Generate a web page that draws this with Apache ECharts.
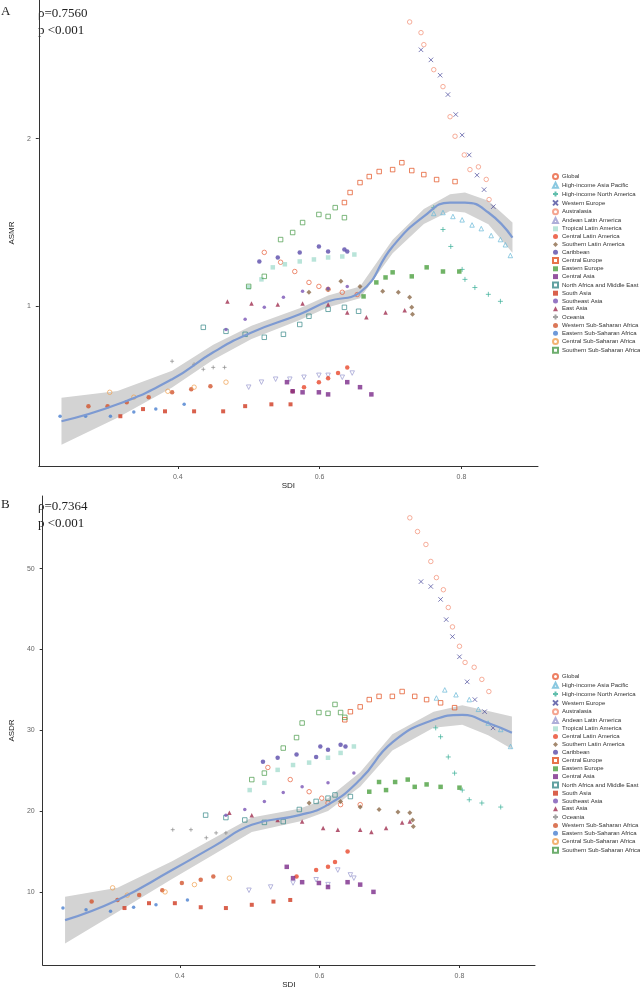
<!DOCTYPE html>
<html><head><meta charset="utf-8">
<script src="https://cdn.jsdelivr.net/npm/echarts@6/dist/echarts.min.js"></script>
<style>html,body{margin:0;padding:0;background:#fff}#c{width:640px;height:992px}</style>
</head><body><div id="c"></div>
<script>
const regions = ["Global","High-income Asia Pacific","High-income North America","Western Europe","Australasia","Andean Latin America","Tropical Latin America","Central Latin America","Southern Latin America","Caribbean","Central Europe","Eastern Europe","Central Asia","North Africa and Middle East","South Asia","Southeast Asia","East Asia","Oceania","Western Sub-Saharan Africa","Eastern Sub-Saharan Africa","Central Sub-Saharan Africa","Southern Sub-Saharan Africa"];
const colors = ["#E8603C","#6BBAD8","#3AAF98","#4B4B9C","#F28E74","#9A9ACF","#A8DDD0","#E8472A","#8C6A4A","#5A4BAA","#E2501F","#4CA040","#7A2A8A","#3A8A8A","#D03A20","#7A55B5","#A03050","#8C8C8C","#D2552E","#4A80D0","#F0A050","#4A9A4A"];
const xSym='path://M0,0L10,10M10,0L0,10', pSym='path://M5,0L5,10M0,5L10,5';
const symbols = ["circle","triangle",pSym,xSym,"circle","triangle","rect","circle","diamond","circle","rect","rect","rect","rect","rect","circle","triangle",pSym,"circle","circle","circle","rect"];
const outline = [true,true,true,true,true,true,false,false,false,false,true,false,false,true,false,false,false,true,false,false,true,true];
const sizes = [4.5,4.5,5,4.5,4.5,4.5,4.5,4.5,5,4.5,4.5,4.5,4.5,4.5,4,3.5,4.5,4,4.5,3.5,4.5,4.5];

// Panel A: ASMR (SDI, ASMR)
const asmrData = [
 [[0.522,1.25],[0.545,1.20],[0.565,1.155],[0.585,1.104],[0.599,1.086],[0.612,1.073],[0.632,1.06],[0.653,1.05]],
 [[0.761,1.468],[0.774,1.474],[0.788,1.45],[0.801,1.43],[0.815,1.40],[0.828,1.379],[0.842,1.34],[0.855,1.318],[0.862,1.29],[0.869,1.234]],
 [[0.761,1.504],[0.774,1.374],[0.785,1.281],[0.801,1.165],[0.805,1.118],[0.819,1.081],[0.838,1.051],[0.855,1.021]],
 [[0.743,2.888],[0.757,2.77],[0.770,2.60],[0.781,2.40],[0.792,2.21],[0.801,2.03],[0.811,1.87],[0.822,1.72],[0.832,1.62],[0.845,1.51]],
 [[0.727,3.24],[0.743,3.10],[0.747,2.95],[0.761,2.66],[0.774,2.48],[0.784,2.19],[0.791,2.02],[0.804,1.87],[0.812,1.76],[0.824,1.78],[0.835,1.69],[0.839,1.555]],
 [[0.50,0.716],[0.518,0.731],[0.538,0.740],[0.558,0.740],[0.578,0.746],[0.599,0.752],[0.612,0.752],[0.632,0.746],[0.646,0.759]],
 [[0.50,1.082],[0.518,1.118],[0.534,1.175],[0.551,1.19],[0.572,1.204],[0.592,1.214],[0.612,1.224],[0.632,1.229],[0.649,1.239]],
 [[0.562,0.704],[0.578,0.716],[0.599,0.731],[0.612,0.743],[0.626,0.759],[0.639,0.777]],
 [[0.585,1.06],[0.612,1.073],[0.630,1.109],[0.657,1.086],[0.689,1.064],[0.711,1.06],[0.727,1.038],[0.730,0.996],[0.731,0.968]],
 [[0.515,1.204],[0.541,1.224],[0.572,1.25],[0.599,1.281],[0.612,1.255],[0.635,1.265],[0.639,1.255]],
 [[0.635,1.536],[0.643,1.601],[0.657,1.668],[0.670,1.71],[0.684,1.746],[0.703,1.76],[0.716,1.811],[0.730,1.753],[0.747,1.724],[0.765,1.689],[0.791,1.675]],
 [[0.662,1.042],[0.680,1.104],[0.693,1.127],[0.703,1.151],[0.730,1.132],[0.751,1.175],[0.774,1.155],[0.797,1.155]],
 [[0.554,0.731],[0.562,0.704],[0.576,0.701],[0.599,0.701],[0.612,0.695],[0.639,0.731],[0.657,0.716],[0.673,0.695]],
 [[0.436,0.917],[0.468,0.902],[0.495,0.891],[0.522,0.880],[0.549,0.891],[0.572,0.928],[0.585,0.96],[0.612,0.988],[0.635,0.996],[0.655,0.98]],
 [[0.319,0.635],[0.351,0.654],[0.382,0.648],[0.423,0.648],[0.464,0.648],[0.495,0.662],[0.532,0.667],[0.559,0.667]],
 [[0.468,0.909],[0.495,0.948],[0.522,0.996],[0.549,1.038],[0.576,1.064],[0.612,1.077],[0.639,1.086]],
 [[0.47,1.02],[0.504,1.012],[0.541,1.008],[0.576,1.012],[0.612,1.008],[0.639,0.975],[0.666,0.956],[0.693,0.975],[0.72,0.984]],
 [[0.392,0.797],[0.423,0.787],[0.436,0.771],[0.45,0.777],[0.466,0.777]],
 [[0.274,0.662],[0.301,0.662],[0.328,0.673],[0.359,0.687],[0.392,0.701],[0.419,0.71],[0.446,0.719]],
 [[0.234,0.635],[0.27,0.635],[0.305,0.635],[0.338,0.646],[0.369,0.654],[0.409,0.667]],
 [[0.304,0.701],[0.338,0.687],[0.386,0.704],[0.423,0.716],[0.468,0.731]],
 [[0.50,1.086],[0.522,1.132],[0.545,1.318],[0.562,1.357],[0.576,1.414],[0.599,1.462],[0.612,1.45],[0.622,1.504],[0.635,1.443]]
];
const asmrFitX = [0.236,0.315,0.392,0.45,0.504,0.572,0.612,0.657,0.703,0.747,0.784,0.805,0.838,0.872];
const asmrFitY = [0.622,0.667,0.74,0.827,0.898,0.968,1.021,1.06,1.281,1.45,1.536,1.536,1.474,1.329];
const asmrFitSE = [0.14,0.08,0.05,0.045,0.04,0.035,0.035,0.035,0.04,0.045,0.05,0.06,0.07,0.09]; // log2 units

// Panel B: ASDR
const asdrData = [
 [[0.526,25.4],[0.558,23.9],[0.585,22.4],[0.603,21.6],[0.612,21.0],[0.630,20.8],[0.658,20.8]],
 [[0.767,34.0],[0.779,35.0],[0.795,34.4],[0.814,33.8],[0.827,32.6],[0.841,30.9],[0.859,30.1],[0.873,28.0]],
 [[0.766,30.3],[0.773,29.2],[0.784,26.7],[0.793,24.7],[0.804,22.6],[0.814,21.4],[0.832,21.0],[0.859,20.5]],
 [[0.745,48.4],[0.759,47.8],[0.773,46.2],[0.781,43.7],[0.79,41.6],[0.80,39.1],[0.811,36.0],[0.822,33.8],[0.836,32.3],[0.848,30.3]],
 [[0.729,56.3],[0.740,54.6],[0.752,53.0],[0.759,50.9],[0.767,48.9],[0.777,47.4],[0.784,45.2],[0.790,42.8],[0.80,40.4],[0.808,38.4],[0.821,37.8],[0.832,36.3],[0.842,34.8]],
 [[0.499,10.2],[0.530,10.6],[0.562,11.1],[0.595,11.5],[0.612,10.9],[0.626,12.7],[0.644,12.1],[0.649,11.7]],
 [[0.50,22.6],[0.521,23.5],[0.540,25.1],[0.562,25.7],[0.585,26.0],[0.612,26.6],[0.630,27.2],[0.649,28.0]],
 [[0.567,11.9],[0.595,12.7],[0.612,13.1],[0.622,13.7],[0.640,15.0]],
 [[0.585,21.0],[0.630,21.2],[0.658,20.5],[0.685,20.2],[0.712,19.9],[0.729,19.8],[0.733,18.9],[0.734,18.1]],
 [[0.519,26.1],[0.540,26.6],[0.567,27.0],[0.595,26.7],[0.601,28.0],[0.612,27.6],[0.630,28.2],[0.637,28.0]],
 [[0.636,31.3],[0.644,32.3],[0.658,32.9],[0.671,33.8],[0.685,34.2],[0.704,34.2],[0.718,34.8],[0.736,34.2],[0.753,33.8],[0.773,33.4],[0.793,32.8]],
 [[0.671,22.4],[0.685,23.6],[0.695,22.6],[0.708,23.6],[0.726,23.9],[0.736,23.0],[0.753,23.3],[0.773,23.0],[0.80,22.9]],
 [[0.553,13.1],[0.562,11.7],[0.575,11.2],[0.599,11.1],[0.612,10.6],[0.640,11.2],[0.658,10.9],[0.677,10.0]],
 [[0.437,19.5],[0.466,19.2],[0.493,18.9],[0.521,18.6],[0.548,18.7],[0.571,20.2],[0.595,21.2],[0.612,21.6],[0.622,22.0],[0.644,21.8]],
 [[0.321,8.0],[0.356,8.6],[0.393,8.6],[0.430,8.1],[0.466,8.0],[0.503,8.4],[0.534,8.8],[0.558,9.0]],
 [[0.466,19.5],[0.493,20.2],[0.521,21.2],[0.548,22.3],[0.575,23.0],[0.612,23.5],[0.649,24.7]],
 [[0.471,19.8],[0.503,19.5],[0.540,18.9],[0.575,18.7],[0.605,17.9],[0.626,17.7],[0.658,17.7],[0.674,17.4],[0.695,17.9],[0.718,18.6],[0.729,18.7]],
 [[0.390,17.7],[0.416,17.7],[0.438,16.7],[0.452,17.3],[0.466,17.3]],
 [[0.274,8.8],[0.311,9.0],[0.342,9.6],[0.375,10.2],[0.403,11.1],[0.430,11.5],[0.448,11.9]],
 [[0.233,8.0],[0.266,7.8],[0.301,7.6],[0.334,8.1],[0.366,8.4],[0.411,9.0]],
 [[0.304,10.5],[0.325,9.6],[0.379,10.0],[0.421,10.9],[0.471,11.7]],
 [[0.503,23.9],[0.521,24.7],[0.548,27.8],[0.567,29.1],[0.575,30.9],[0.599,32.2],[0.612,32.1],[0.622,33.2],[0.630,32.2],[0.636,31.6]]
];
const asdrFitX = [0.236,0.311,0.389,0.448,0.503,0.571,0.612,0.658,0.704,0.763,0.804,0.841,0.875];
const asdrFitY = [6.5,9.0,12.7,15.6,18.3,19.5,20.8,23.9,28.5,31.3,31.9,30.9,29.7];
const asdrFitSE = [2.9,1.5,1.1,1.0,0.9,0.8,0.8,0.9,1.0,1.0,1.2,1.5,2.0];

const log2 = v => Math.log(v)/Math.LN2;
const axisCommon = {axisLine:{onZero:false,lineStyle:{color:'#333',width:1}},axisTick:{length:3,lineStyle:{color:'#333'}},axisLabel:{color:'#666',fontSize:7,fontFamily:'Liberation Sans'},splitLine:{show:false}};
const series=[];
function addPanel(idx,data,fx,fy,fse,tf){
  const band = fx.map((x,i)=>[x,tf(fy[i])-fse[i],tf(fy[i])+fse[i]]);
  series.push({type:'custom',xAxisIndex:idx,yAxisIndex:idx,silent:true,z:1,
    data:[0],
    renderItem:(params,api)=>{
      const up=band.map(b=>api.coord([b[0],b[2]]));
      const lo=band.map(b=>api.coord([b[0],b[1]])).reverse();
      return {type:'polygon',shape:{points:up.concat(lo)},style:{fill:'#d3d3d3',stroke:'none'}};
    }});
  regions.forEach((r,k)=>{
    series.push({type:'scatter',name:r,xAxisIndex:idx,yAxisIndex:idx,symbol:symbols[k],symbolSize:sizes[k],
      symbolRotate:(k===5)?180:0,
      itemStyle:outline[k]?{color:'rgba(255,255,255,0)',borderColor:colors[k],borderWidth:0.9}:{color:colors[k]},
      data:data[k].map(p=>[p[0],tf(p[1])]),z:3});
  });
  series.push({type:'line',xAxisIndex:idx,yAxisIndex:idx,symbol:'none',smooth:true,silent:true,lineStyle:{color:'#7D9AD2',width:2.2},data:fx.map((x,i)=>[x,tf(fy[i])]),z:4});
}
addPanel(0,asmrData,asmrFitX,asmrFitY,asmrFitSE,log2);
addPanel(1,asdrData,asdrFitX,asdrFitY,asdrFitSE,v=>v);

const legendBase = {orient:'vertical',left:547,itemWidth:5,itemHeight:5,itemGap:1.8,textStyle:{fontSize:6,color:'#333',fontFamily:'Liberation Sans',padding:[0,0,0,-1]},data:regions.map(r=>({name:r}))};
const xLab = Object.assign({},axisCommon.axisLabel,{customValues:[0.4,0.6,0.8],formatter:v=>v.toFixed(1)});
const xTick = Object.assign({},axisCommon.axisTick,{customValues:[0.4,0.6,0.8]});
const opt={
  animation:false,
  grid:[{left:18,top:0,right:102,height:466},{left:22,top:496,right:105,height:469}],
  xAxis:[
    Object.assign({},axisCommon,{type:'value',gridIndex:0,min:0.204,max:0.908,axisLabel:xLab,axisTick:xTick,name:'SDI',nameLocation:'middle',nameGap:16,nameTextStyle:{fontSize:8,color:'#222'}}),
    Object.assign({},axisCommon,{type:'value',gridIndex:1,min:0.204,max:0.908,axisLabel:xLab,axisTick:xTick,name:'SDI',nameLocation:'middle',nameGap:16,nameTextStyle:{fontSize:8,color:'#222'}})
  ],
  yAxis:[
    Object.assign({},axisCommon,{type:'value',gridIndex:0,min:-0.952,max:1.827,axisLabel:Object.assign({},axisCommon.axisLabel,{customValues:[0,1],formatter:v=>String(Math.round(Math.pow(2,v)))}),axisTick:Object.assign({},axisCommon.axisTick,{customValues:[0,1]}),name:'ASMR',nameLocation:'middle',nameGap:10,nameTextStyle:{fontSize:8,color:'#222'}}),
    Object.assign({},axisCommon,{type:'value',gridIndex:1,min:0.95,max:59,axisLabel:Object.assign({},axisCommon.axisLabel,{customValues:[10,20,30,40,50]}),axisTick:Object.assign({},axisCommon.axisTick,{customValues:[10,20,30,40,50]}),name:'ASDR',nameLocation:'middle',nameGap:14,nameTextStyle:{fontSize:8,color:'#222'}})
  ],
  legend:[Object.assign({},legendBase,{top:168}),Object.assign({},legendBase,{top:668})],
  graphic:[
    {type:'text',left:1,top:5,style:{text:'A',font:'13px "Liberation Serif"',fill:'#222'}},
    {type:'text',left:38,top:5,style:{text:'ρ=0.7560\np <0.001',font:'13px "Liberation Serif"',fill:'#222',lineHeight:17}},
    {type:'text',left:1,top:498,style:{text:'B',font:'13px "Liberation Serif"',fill:'#222'}},
    {type:'text',left:38,top:498,style:{text:'ρ=0.7364\np <0.001',font:'13px "Liberation Serif"',fill:'#222',lineHeight:17}}
  ],
  series
};
echarts.init(document.getElementById('c')).setOption(opt);
</script></body></html>
